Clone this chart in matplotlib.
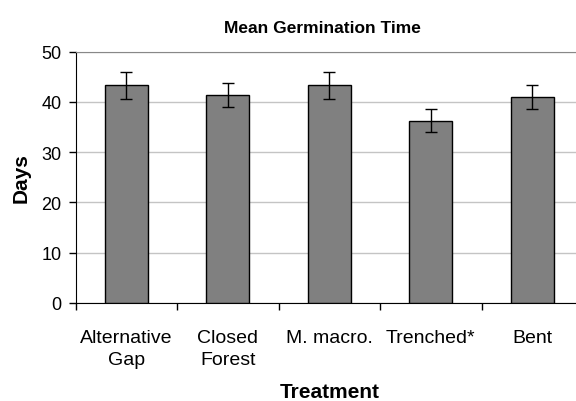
import numpy as np
import matplotlib.pyplot as plt

plt.rcParams['font.family'] = ['Liberation Sans', 'DejaVu Sans']

# data
treatments = ['Alternative\nGap', 'Closed\nForest', 'M. macro.', 'Trenched*', 'Bent']
mean_days = [43.3, 41.4, 43.3, 36.2, 40.9]
err_days = [2.7, 2.4, 2.7, 2.3, 2.4]


def main():
    fig = plt.figure(figsize=(5.76, 4.02), dpi=100)
    # axes runs a little past the right edge, like the original export
    ax = fig.add_axes([75.5 / 576, 1 - 304 / 402, 507.5 / 576, 251.5 / 402])

    x = np.arange(len(treatments))
    ax.bar(x, mean_days, width=0.42, color='#808080', edgecolor='black',
           linewidth=1.0, zorder=3)
    ax.errorbar(x, mean_days, yerr=err_days, fmt='none', ecolor='black',
                elinewidth=1.0, capsize=4.3, capthick=1.0, zorder=4)

    ax.set_xlim(-0.5, len(treatments) - 0.5)
    ax.set_ylim(0, 50)
    ax.set_yticks([0, 10, 20, 30, 40, 50])
    ax.yaxis.grid(True, color='#c4c4c4', linewidth=1.0, zorder=0)

    # category labels centred, tick marks between categories
    ax.set_xticks(x)
    ax.set_xticklabels(treatments, fontsize=14, linespacing=1.35)
    ax.tick_params(axis='x', length=0, pad=19)
    ax.set_xticks(np.arange(len(treatments) + 1) - 0.5, minor=True)
    ax.tick_params(axis='x', which='minor', length=5, color='black', width=1)
    ax.tick_params(axis='y', length=5, labelsize=13, width=1, pad=5)

    ax.spines['right'].set_visible(False)
    ax.spines['top'].set_color('#888888')
    ax.spines['left'].set_color('black')
    ax.spines['bottom'].set_color('black')

    # title sits a bit left of the axes centre in the original
    ax.set_title('Mean Germination Time', fontsize=12.5, fontweight='bold',
                 pad=14, x=0.486)
    ax.set_xlabel('Treatment', fontsize=15, fontweight='bold', labelpad=10)
    ax.set_ylabel('Days', fontsize=15, fontweight='bold', labelpad=8)

    fig.savefig('out.png', dpi=100)


if __name__ == "__main__":
    main()
